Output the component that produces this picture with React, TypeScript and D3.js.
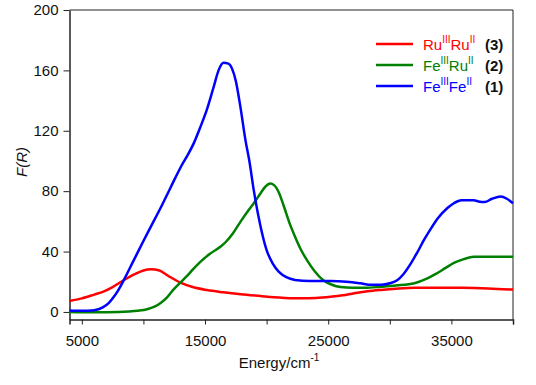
import React from "react";
import * as d3 from "d3";

// FeIIIFeII (1), blue
const energyFeFe = [4000, 5000, 6000, 6700, 7200, 7600, 8000, 8400, 9200, 10000, 10700, 11400, 12000, 12600, 13100, 13600, 14100, 14600, 15150, 15700, 16100, 16500, 16900, 17200, 17500, 17850, 18300, 18600, 18950, 19500, 20000, 20500, 21000, 21600, 22300, 23500, 25200, 26500, 27600, 28500, 29300, 30000, 30600, 31100, 31700, 32200, 32800, 33400, 33900, 34700, 35200, 35800, 36800, 37300, 37700, 38300, 39000, 39500, 40000];
const fFeFe = [1, 0.8, 1.2, 3, 6, 10, 15, 21, 34, 47, 58, 69, 79, 89, 97, 104, 112, 122, 134, 149, 160, 165, 164.5, 161, 153, 137, 113, 100, 81, 57, 41, 32, 26.5, 23, 21.2, 20.5, 20.5, 20, 19, 18, 18, 19, 21, 25, 32, 39, 48, 56, 62, 69, 72, 74, 74, 73, 72.8, 75, 76.5, 75, 72];

// FeIIIRuII (2), green
const energyFeRu = [4000, 6000, 8000, 9500, 10300, 10900, 11400, 11900, 12400, 13000, 13500, 14000, 14600, 15400, 16300, 16700, 17300, 17900, 18500, 19000, 19500, 19900, 20300, 20600, 21000, 21400, 21900, 22300, 22800, 23300, 23900, 24600, 25300, 26000, 27000, 28000, 29300, 30500, 32000, 33000, 33700, 34500, 35200, 36000, 36800, 38000, 40000];
const fFeRu = [0, -0.2, 0, 0.8, 1.8, 3.5, 6, 9.5, 14.5, 19.5, 23.5, 28, 33, 38.5, 43.5, 46.5, 52.5, 60, 67, 72.5, 78.5, 83, 85, 84, 79, 70, 58, 50, 41, 34, 27, 21, 18, 16.5, 16, 16, 16.7, 17.5, 19, 22, 25, 29, 32.5, 35, 36.6, 36.6, 36.6];

// RuIIIRuII (3), red
const energyRuRu = [4000, 5000, 6000, 6750, 7500, 8400, 9300, 10000, 10600, 11300, 12000, 13000, 14000, 15150, 16500, 17900, 19500, 20600, 21500, 22800, 24000, 25200, 26200, 27100, 28200, 29300, 30500, 32000, 34000, 36000, 38000, 40000];
const fRuRu = [7.3, 9, 11.5, 13.5, 16.5, 21, 25, 27.5, 28.3, 27.5, 24, 19.4, 16.5, 14.5, 13, 11.7, 10.5, 9.7, 9.3, 9, 9.2, 10, 11, 12.4, 13.7, 14.6, 15.4, 16, 16, 16, 15.6, 14.8];

const xLabelTicks = [5000, 15000, 25000, 35000];
const xAllTicks = [5000, 10000, 15000, 20000, 25000, 30000, 35000, 40000];
const yTicks = [0, 40, 80, 120, 160, 200];

const series = [
    { metal: ["Ru", "III", "Ru", "II"], num: "(3)", color: "#ff0000", e: energyRuRu, f: fRuRu },
    { metal: ["Fe", "III", "Ru", "II"], num: "(2)", color: "#008000", e: energyFeRu, f: fFeRu },
    { metal: ["Fe", "III", "Fe", "II"], num: "(1)", color: "#0000ff", e: energyFeFe, f: fFeFe },
];

export default function App() {
    const ref = React.useRef<SVGSVGElement>(null);

    React.useEffect(() => {
        const svg = d3.select(ref.current);
        svg.selectAll("*").remove();

        const font = "'Liberation Sans', Arial, sans-serif";
        const left = 69.5, right = 513, top = 10, bottom = 319.5;

        const x = d3.scaleLinear().domain([4000, 40000]).range([left, right]);
        const y = d3.scaleLinear().domain([-5, 200]).range([bottom, top]);

        // x axis
        const xAxis = d3.axisBottom(x).tickValues(xAllTicks).tickSize(5)
            .tickFormat((d) => (xLabelTicks.includes(+d) ? String(d) : ""));
        const xg = svg.append("g").attr("transform", `translate(0,${bottom})`).call(xAxis);
        xg.select(".domain").attr("stroke", "#222").attr("stroke-width", 1.5);
        xg.selectAll(".tick line").attr("stroke", "#222");
        xg.selectAll(".tick text").attr("font-family", font).attr("font-size", 15)
            .attr("fill", "#111").attr("dy", "1.2em");

        // y axis
        const yAxis = d3.axisLeft(y).tickValues(yTicks).tickSize(6).tickSizeOuter(0);
        const yg = svg.append("g").attr("transform", `translate(${left},0)`).call(yAxis);
        yg.select(".domain").attr("stroke", "#222").attr("stroke-width", 1.5);
        yg.selectAll(".tick line").attr("stroke", "#222");
        yg.selectAll(".tick text").attr("font-family", font).attr("font-size", 15)
            .attr("fill", "#111").attr("x", -11);

        // frame top / right
        svg.append("line").attr("x1", left).attr("x2", right).attr("y1", top).attr("y2", top)
            .attr("stroke", "#222").attr("stroke-width", 1);
        svg.append("line").attr("x1", right).attr("x2", right).attr("y1", top).attr("y2", bottom)
            .attr("stroke", "#222").attr("stroke-width", 1);

        // curves
        const plot = svg.append("g");
        series.forEach((s) => {
            const pts = s.e.map((e, i) => [e, s.f[i]] as [number, number]);
            plot.append("path")
                .datum(pts)
                .attr("fill", "none")
                .attr("stroke", s.color)
                .attr("stroke-width", 2.5)
                .attr("stroke-linejoin", "round")
                .attr("d", d3.line<[number, number]>()
                    .x((d) => x(d[0]))
                    .y((d) => y(d[1]))
                    .curve(d3.curveMonotoneX));
        });

        // axis titles
        svg.append("text").attr("x", 279).attr("y", 368).attr("text-anchor", "middle")
            .attr("font-family", font).attr("font-size", 15).attr("fill", "#111")
            .call((t) => {
                t.append("tspan").text("Energy/cm");
                t.append("tspan").attr("font-size", 10).attr("dy", -7).text("-1");
            });
        svg.append("text").attr("transform", "translate(27,162) rotate(-90)")
            .attr("text-anchor", "middle").attr("font-family", font).attr("font-size", 15)
            .attr("font-style", "italic").attr("fill", "#111").text("F(R)");

        // legend
        const rowY = [44, 65, 86];
        series.forEach((s, i) => {
            const ly = rowY[i];
            svg.append("line").attr("x1", 376).attr("x2", 413).attr("y1", ly).attr("y2", ly)
                .attr("stroke", s.color).attr("stroke-width", 2.5);
            const t = svg.append("text").attr("x", 423).attr("y", ly + 6)
                .attr("font-family", font).attr("font-size", 15).attr("fill", s.color);
            t.append("tspan").text(s.metal[0]);
            t.append("tspan").attr("font-size", 10).attr("dy", -7).text(s.metal[1]);
            t.append("tspan").attr("dy", 7).text(s.metal[2]);
            t.append("tspan").attr("font-size", 10).attr("dy", -7).text(s.metal[3]);
            svg.append("text").attr("x", 485).attr("y", ly + 6)
                .attr("font-family", font).attr("font-size", 15).attr("font-weight", "bold")
                .attr("fill", "#111").text(s.num);
        });
    }, []);

    return (
        <svg ref={ref} width={536} height={385}
            style={{ position: "absolute", left: 0, top: 0, background: "#fff" }} />
    );
}
